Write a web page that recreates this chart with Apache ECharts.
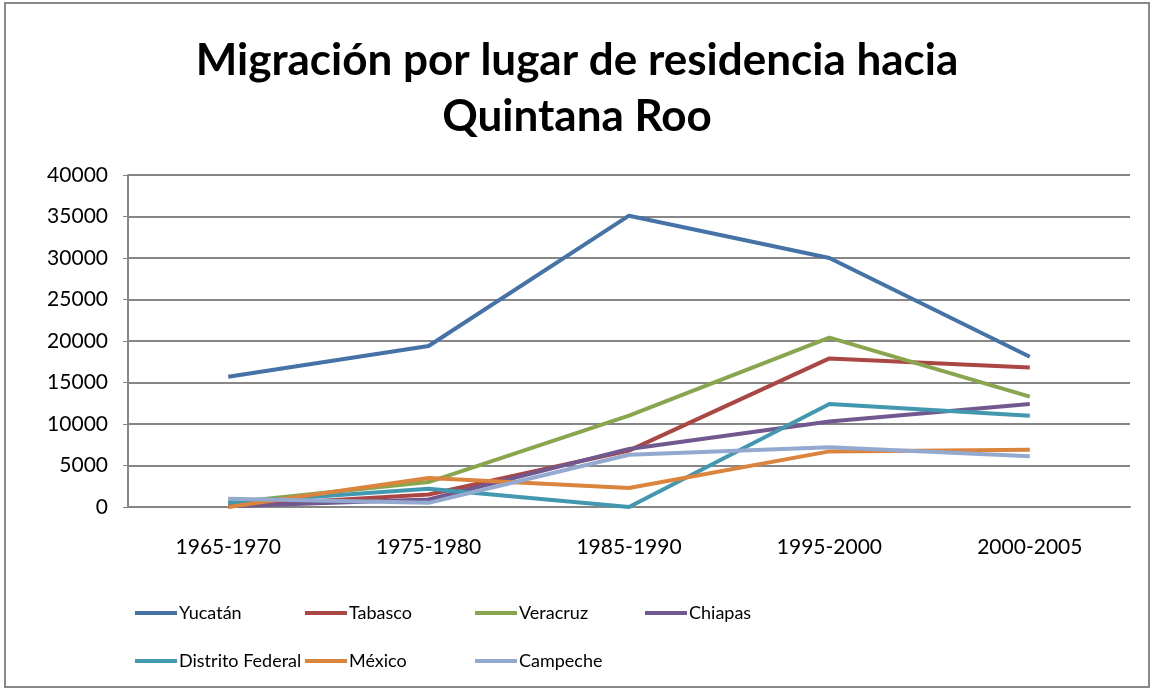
<!DOCTYPE html>
<html>
<head>
<meta charset="utf-8">
<script src="https://cdn.jsdelivr.net/npm/echarts@6/dist/echarts.min.js"></script>
<style>
  html, body { margin: 0; padding: 0; background: #fff; }
  #chart { width: 1154px; height: 691px; }
</style>
</head>
<body>
<div id="chart"></div>
<script>
// 数据
const periods = ['1965-1970', '1975-1980', '1985-1990', '1995-2000', '2000-2005']
const yucatan = [15700, 19400, 35100, 30000, 18100]
const tabasco = [100, 1500, 6800, 17900, 16800]
const veracruz = [500, 3000, 11000, 20400, 13300]
const chiapas = [100, 900, 7000, 10300, 12400]
const distritoFederal = [500, 2200, 0, 12400, 11000]
const mexico = [0, 3500, 2300, 6700, 6900]
const campeche = [1000, 500, 6300, 7200, 6100]
const yTicks = [0, 5000, 10000, 15000, 20000, 25000, 30000, 35000, 40000]

const seriesList = [
  { name: 'Yucatán', data: yucatan, color: '#4572A7' },
  { name: 'Tabasco', data: tabasco, color: '#AA4643' },
  { name: 'Veracruz', data: veracruz, color: '#89A54E' },
  { name: 'Chiapas', data: chiapas, color: '#71588F' },
  { name: 'Distrito Federal', data: distritoFederal, color: '#4198AF' },
  { name: 'México', data: mexico, color: '#DB843D' },
  { name: 'Campeche', data: campeche, color: '#93A9CF' }
]

const font = 'Lato, "Open Sans", sans-serif'

// 图例位置：两行，每行四列
const legends = seriesList.map((s, i) => ({
  data: [s.name],
  left: 130 + (i % 4) * 170,
  top: i < 4 ? 599 : 647,
  icon: 'rect',
  itemWidth: 42,
  itemHeight: 4,
  itemGap: 0,
  selectedMode: false,
  textStyle: { fontSize: 18, color: '#000', fontFamily: font, padding: [0, 0, 0, -3] }
}))

const myChart = echarts.init(document.querySelector('#chart'))

const option = {
  backgroundColor: '#fff',
  animation: false,
  title: {
    text: 'Migración por lugar de residencia hacia\nQuintana Roo',
    left: 'center',
    top: 28,
    textStyle: {
      fontSize: 44,
      fontWeight: 'bold',
      fontFamily: font,
      color: '#000',
      lineHeight: 56
    }
  },
  graphic: [{
    type: 'rect',
    shape: { x: 5, y: 3, width: 1144, height: 684 },
    style: { fill: 'none', stroke: '#888', lineWidth: 2 },
    silent: true
  }],
  grid: { left: 128, right: 24, top: 175, bottom: 184, containLabel: false },
  legend: legends,
  xAxis: {
    type: 'category',
    data: periods,
    boundaryGap: true,
    axisLine: { lineStyle: { color: '#868686', width: 2 } },
    axisTick: { show: false },
    axisLabel: { fontSize: 21, color: '#000', fontFamily: font, margin: 30 }
  },
  yAxis: {
    type: 'value',
    min: 0,
    max: 40000,
    interval: 5000,
    axisLine: { show: true, lineStyle: { color: '#868686', width: 2 } },
    axisTick: { show: true, length: 5, lineStyle: { color: '#868686' } },
    axisLabel: {
      fontSize: 21,
      color: '#000',
      fontFamily: font,
      margin: 20,
      formatter: v => (yTicks.includes(v) ? String(v) : '')
    },
    splitLine: { lineStyle: { color: '#868686', width: 2 } }
  },
  series: seriesList.map(s => ({
    name: s.name,
    type: 'line',
    data: s.data,
    showSymbol: false,
    symbol: 'none',
    color: s.color,
    lineStyle: { width: 4, color: s.color }
  }))
}

myChart.setOption(option)
</script>
</body>
</html>
